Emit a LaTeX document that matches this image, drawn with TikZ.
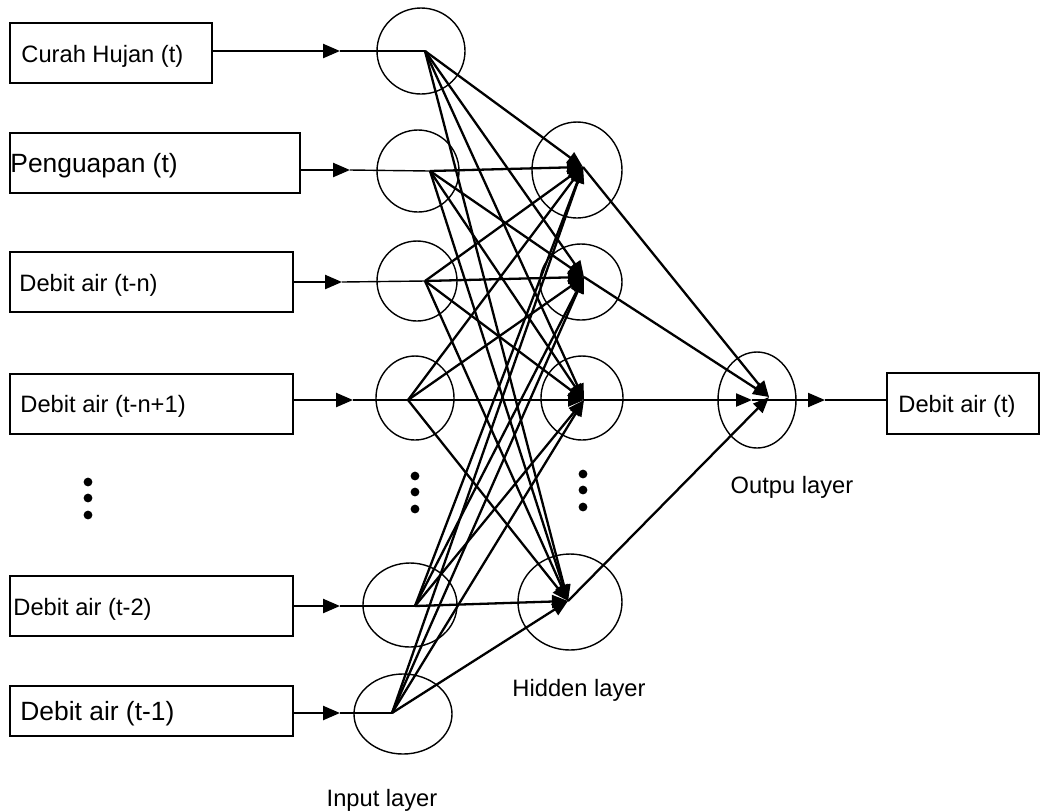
\documentclass[tikz,border=0pt]{standalone}
\usepackage{fontspec}
\setmainfont{Liberation Sans}
\usetikzlibrary{arrows.meta,shapes.geometric}
\begin{document}
\begin{tikzpicture}[x=0.5pt,y=-0.5pt,
  box/.style={draw,line width=0.8pt,inner xsep=0pt,inner ysep=0pt,align=left},
  neuron/.style={draw,ellipse,line width=0.7pt,inner sep=0pt},
  tri/.style={-{Triangle[length=8.5pt,width=7pt]}},
  inarr/.style={tri,line width=1.2pt},
  thin/.style={line width=0.7pt},
  mesh/.style={-{Triangle[length=8pt,width=6.5pt]},line width=1.15pt},
  fs/.style={font=\fontsize{11.85}{14}\selectfont},
  fb/.style={font=\fontsize{13.2}{15}\selectfont}
]
\useasboundingbox (0,0) rectangle (1040,811);
% input boxes
\node[box,minimum width=101pt,minimum height=30pt] (B1) at (111,53) {};
\node[fs,anchor=west,inner sep=0pt] (T1) at (21,56) {Curah Hujan (t)};
\node[box,minimum width=145pt,minimum height=30pt] (B2) at (155,163) {};
\node[fb,anchor=west,inner sep=0pt] (T2) at (10,166) {Penguapan (t)};
\node[box,minimum width=141.5pt,minimum height=30pt] (B3) at (151.5,282) {};
\node[fs,anchor=west,inner sep=0pt] (T3) at (19,285) {Debit air (t-n)};
\node[box,minimum width=141.5pt,minimum height=30pt] (B4) at (151.5,404) {};
\node[fs,anchor=west,inner sep=0pt] (T4) at (20,406) {Debit air (t-n+1)};
\node[box,minimum width=141.5pt,minimum height=30pt] (B5) at (151.5,606) {};
\node[fs,anchor=west,inner sep=0pt] (T5) at (13,609) {Debit air (t-2)};
\node[box,minimum width=141.5pt,minimum height=25pt] (B6) at (151.5,711) {};
\node[fb,anchor=west,inner sep=0pt] (T6) at (20,714) {Debit air (t-1)};
\node[box,minimum width=76pt,minimum height=30.5pt] (BO) at (963,403.5) {};
\node[fs,anchor=west,inner sep=0pt] (TO) at (898,406) {Debit air (t)};
% neurons
\node[neuron,minimum width=44pt,minimum height=43pt] (I1) at (421,51) {};
\node[neuron,minimum width=41pt,minimum height=41pt] (I2) at (418,171) {};
\node[neuron,minimum width=40pt,minimum height=40pt] (I3) at (417,281) {};
\node[neuron,minimum width=39pt,minimum height=42pt] (I4) at (415,398) {};
\node[neuron,minimum width=47pt,minimum height=42pt] (I5) at (410,605) {};
\node[neuron,minimum width=49pt,minimum height=40pt] (I6) at (403,714) {};
\node[neuron,minimum width=45pt,minimum height=48pt] (H1) at (577,170) {};
\node[neuron,minimum width=41pt,minimum height=38pt] (H2) at (581,282) {};
\node[neuron,minimum width=41pt,minimum height=42pt] (H3) at (582,398) {};
\node[neuron,minimum width=52pt,minimum height=48pt] (H4) at (570,602) {};
\node[neuron,minimum width=39pt,minimum height=48pt] (O) at (757,400) {};
% junction points
\coordinate (p1) at (425,51);
\coordinate (p2) at (430,171);
\coordinate (p3) at (425,281);
\coordinate (p4) at (408,400);
\coordinate (p5) at (415,606);
\coordinate (p6) at (392,713);
\coordinate (h1) at (583,167);
\coordinate (h2) at (584,277);
\coordinate (h3) at (584,400);
\coordinate (h4) at (568,601);
\coordinate (o) at (769,397);
\coordinate (o3) at (752,400);
\coordinate (ot) at (825,400);
% arrow tips on input lines
\coordinate (a1) at (340,51);
\coordinate (a2) at (350,170);
\coordinate (a3) at (342,282);
\coordinate (a4) at (353,400);
\coordinate (a5) at (340,606);
\coordinate (a6) at (340,713);
% input arrows
\draw[inarr] (B1.east |- a1) -- (a1);
\draw[thin] (a1) -- (p1);
\draw[inarr] (B2.east |- a2) -- (a2);
\draw[thin] (a2) -- (p2);
\draw[inarr] (B3.east |- a3) -- (a3);
\draw[thin] (a3) -- (p3);
\draw[inarr] (B4.east |- a4) -- (a4);
\draw[thin] (a4) -- (p4);
\draw[inarr] (B5.east |- a5) -- (a5);
\draw[thin] (a5) -- (p5);
\draw[inarr] (B6.east |- a6) -- (a6);
\draw[thin] (a6) -- (p6);
% input to hidden
\foreach \i in {1,...,6}{
  \foreach \h in {1,...,4}{
    \draw[mesh] (p\i) -- (h\h);
  }
}
% hidden to output
\draw[mesh] (h1) -- (o);
\draw[mesh] (h2) -- (o);
\draw[mesh] (h3) -- (o3);
\draw[mesh] (h4) -- (o);
\draw[line width=1pt] (o3) -- (o |- o3);
% output
\draw[tri,line width=1pt] (o |- ot) -- (ot);
\draw[thin] (ot) -- (BO.west |- ot);
% dots
\foreach \y in {482,498,515}{\fill (88,\y) circle (2.2pt);}
\foreach \y in {476,492,509}{\fill (415,\y) circle (2.2pt);}
\foreach \y in {474,490,507}{\fill (583,\y) circle (2.2pt);}
% labels
\node[fs,inner sep=0pt] (LI) at (382,800) {Input layer};
\node[fs,inner sep=0pt] (LH) at (579,690) {Hidden layer};
\node[fs,inner sep=0pt] (LO) at (792,487) {Outpu layer};
\end{tikzpicture}
\end{document}
